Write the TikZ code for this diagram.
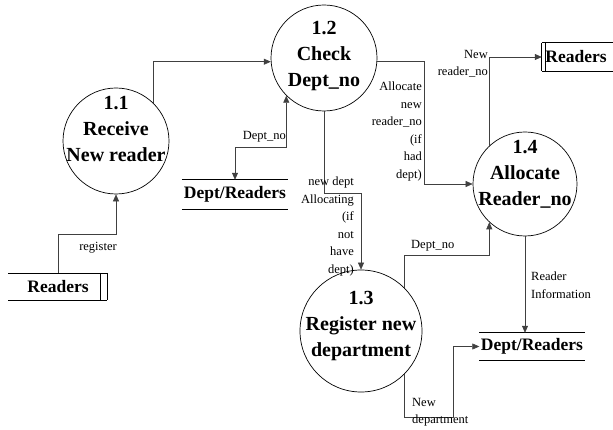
\documentclass[tikz,border=0pt]{standalone}
\usepackage{fontspec}
\setmainfont{Liberation Serif}
\usetikzlibrary{arrows.meta}
\tikzset{
  proc/.style={circle, draw=black, line width=0.7pt, minimum size=#1, inner sep=0pt},
  ptext/.style={align=center, inner sep=0pt, font=\bfseries\fontsize{20}{26}\selectfont},
  storetext/.style={inner sep=0pt, font=\bfseries\fontsize{17.5}{20}\selectfont},
  storeline/.style={draw=black, line width=0.7pt},
  flow/.style={draw=black!75, line width=0.6pt, -{Triangle[length=7pt,width=6pt]}},
  flowboth/.style={draw=black!75, line width=0.6pt, {Triangle[length=7pt,width=6pt]}-{Triangle[length=7pt,width=6pt]}},
  lbl/.style={inner sep=0pt, font=\fontsize{12.5}{17.5}\selectfont}
}
\begin{document}
\begin{tikzpicture}[x=1pt,y=-1pt]
\useasboundingbox (0,0) rectangle (613,430);
% processes
\node[proc=106pt] (c11) at (116,141) {};
\node[ptext] (t11) at (116,129) {1.1\\Receive\\New reader};
\node[proc=106pt] (c12) at (324,58) {};
\node[ptext] (t12) at (324,56) {1.2\\Check\\Dept\_no};
\node[proc=122pt] (c13) at (361,331) {};
\node[ptext] (t13) at (361,326) {1.3\\Register new\\department};
\node[proc=104pt] (c14) at (525,184) {};
\node[ptext] (t14) at (525,174) {1.4\\Allocate\\Reader\_no};
% stores
\node[storetext, minimum width=84pt, minimum height=27pt] (rdA) at (58,286.5) {Readers};
\draw[storeline] (8,273) -- (107,273) (8,300) -- (107,300) (100,273) -- (100,300) (107,273) -- (107,300);
\node[storetext, minimum width=68pt, minimum height=28pt] (rdB) at (576,57) {Readers};
\draw[storeline] (rdB.north west) -- ++(71,0) (rdB.south west) -- ++(71,0)
  (rdB.north west) -- (rdB.south west)
  ([xshift=4pt]rdB.north west) -- ([xshift=4pt]rdB.south west);
\node[storetext, minimum width=106pt, minimum height=29pt] (drA) at (235,194.5) {Dept/Readers};
\draw[storeline] (drA.north west) -- (drA.north east) (drA.south west) -- (drA.south east);
\node[storetext, minimum width=105pt, minimum height=27pt] (drB) at (532,346.5) {Dept/Readers};
\draw[storeline] (drB.north west) -- (drB.north east) (drB.south west) -- (drB.south east);
% flows
\draw[flow] (rdA.north) -- ++(0,-38) -| (c11.south);
\node[lbl] (l1) at (98,248) {register};
\draw[flow] (c11.45) |- (c12.184);
\draw[flowboth] (drA.north) -- ++(0,-32) -| (c12.225);
\node[lbl, anchor=east] (l2) at (286,137) {Dept\_no};
\draw[flow] (c12.south) -- ++(0,82) -| (c13.north);
\node[lbl, anchor=north east, align=right] (l3) at (354,177) {new dept\\Allocating\\(if\\not\\have\\dept)};
\draw[flow] (c12.-4) -- ++(47,0) |- (c14.west);
\node[lbl, anchor=north east, align=right] (l4) at (422,82) {Allocate\\new\\reader\_no\\(if\\had\\dept)};
\draw[flow] (c14.133) |- (rdB.west);
\node[lbl, anchor=north east, align=right] (l5) at (488,50) {New\\reader\_no};
\draw[flow] (c13.45) -- ++(0,-32) -| (c14.227);
\node[lbl, anchor=west] (l6) at (411,246) {Dept\_no};
\draw[flow] (c14.south) -- (c14.south |- drB.north);
\node[lbl, anchor=north west, align=left] (l7) at (531,272) {Reader\\Information};
\draw[flow] (c13.-45) -- ++(0,43) -- ++(49,0) |- (drB.west);
\node[lbl, anchor=north west, align=left] (l8) at (412,398) {New\\department};
\end{tikzpicture}
\end{document}
